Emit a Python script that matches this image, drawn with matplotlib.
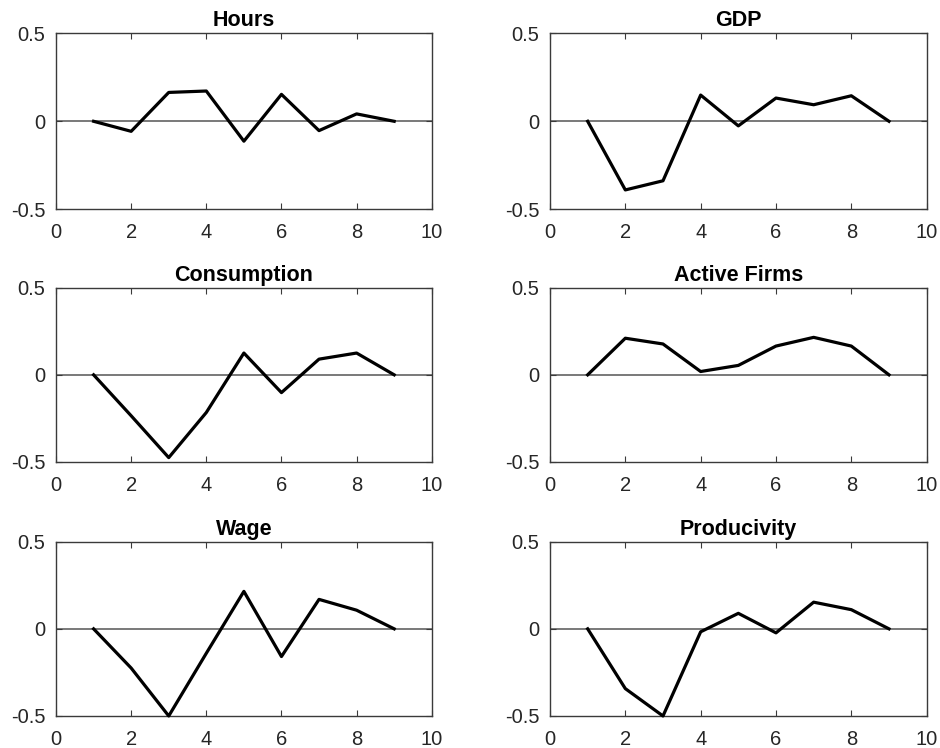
import matplotlib
matplotlib.use("Agg")
import matplotlib.pyplot as plt

plt.rcParams['font.family'] = ['Liberation Sans', 'DejaVu Sans']

periods = [1, 2, 3, 4, 5, 6, 7, 8, 9]

hours = [0, -0.057, 0.164, 0.172, -0.113, 0.153, -0.053, 0.042, 0]
gdp = [0, -0.39, -0.338, 0.149, -0.026, 0.132, 0.094, 0.145, 0]
consumption = [0, -0.235, -0.475, -0.216, 0.125, -0.102, 0.09, 0.125, 0]
active_firms = [0, 0.21, 0.177, 0.019, 0.054, 0.165, 0.215, 0.165, 0]
wage = [0, -0.225, -0.5, -0.14, 0.215, -0.159, 0.169, 0.107, 0]
productivity = [0, -0.343, -0.5, -0.017, 0.089, -0.023, 0.153, 0.11, 0]

titles = ["Hours", "GDP", "Consumption", "Active Firms", "Wage", "Producivity"]
series = [hours, gdp, consumption, active_firms, wage, productivity]

xticks = [0, 2, 4, 6, 8, 10]
yticks = [-0.5, 0, 0.5]
ytick_labels = ["-0.5", "0", "0.5"]

fig = plt.figure(figsize=(9.4, 7.48), dpi=100)

col_left = [0.0596, 0.5851]
col_width = [0.3997, 0.4007]
row_bottom = [0.7202, 0.3824, 0.0428]
row_height = [0.2353, 0.233, 0.233]

frame_color = "#3a3a3a"

for i, (title, vals) in enumerate(zip(titles, series)):
    r, c = divmod(i, 2)
    ax = fig.add_axes([col_left[c], row_bottom[r], col_width[c], row_height[r]])
    ax.axhline(0, color="#555555", lw=1.1, zorder=1)
    ax.plot(periods, vals, color="black", lw=2.3, zorder=3, clip_on=False)
    ax.set_xlim(0, 10)
    ax.set_ylim(-0.5, 0.5)
    ax.set_xticks(xticks)
    ax.set_yticks(yticks)
    ax.set_yticklabels(ytick_labels)
    ax.tick_params(direction="in", length=4, width=0.8, top=True, right=True,
                   labelsize=14.5, colors=frame_color, labelcolor="#262626")
    ax.tick_params(axis="x", pad=10)
    ax.tick_params(axis="y", pad=7.5)
    for sp in ax.spines.values():
        sp.set_color(frame_color)
        sp.set_linewidth(1.0)
    ax.set_title(title, fontsize=15.5, fontweight="bold", pad=5)

fig.savefig("out.png", dpi=100)
